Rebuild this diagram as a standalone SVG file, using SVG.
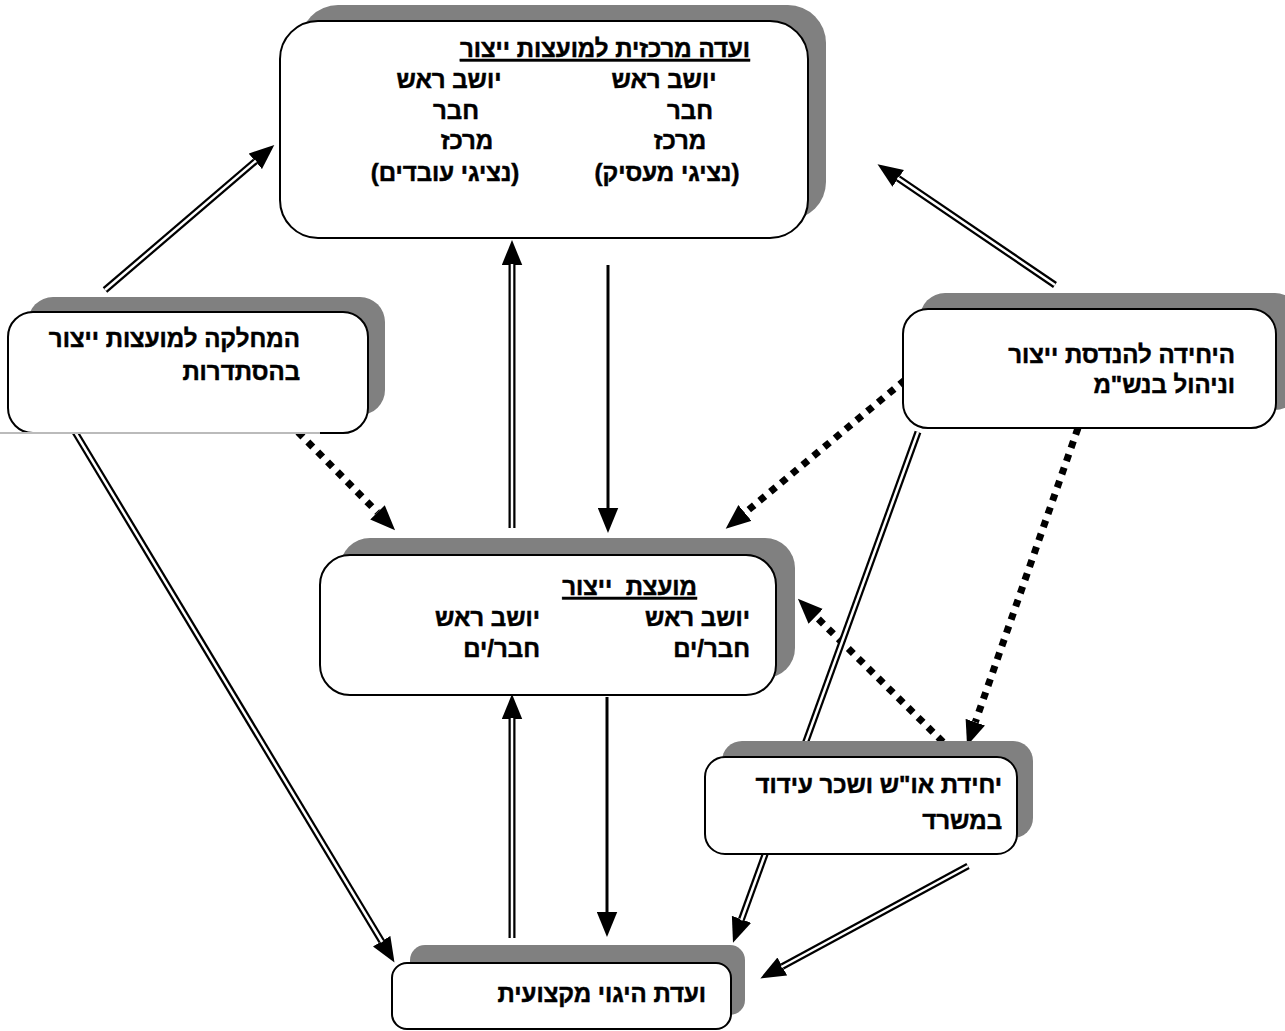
<svg xmlns="http://www.w3.org/2000/svg" width="1285" height="1031" viewBox="0 0 1285 1031">
<style>
.shadow{fill:#808080;}
.box{fill:#fff;stroke:#000;stroke-width:2;}
.t{font-family:"Liberation Sans","DejaVu Sans",Arial,sans-serif;font-weight:bold;font-size:24px;fill:#000;stroke:#000;stroke-width:0.5;}
.r{text-anchor:start;direction:rtl;}
.m{text-anchor:middle;}
.u{text-decoration:underline;}
.pre{white-space:pre;}
.dbl{stroke:#000;stroke-width:7;fill:none;}
.dblw{stroke:#fff;stroke-width:2.5;fill:none;}
.sol{stroke:#000;stroke-width:3;fill:none;}
.dot{stroke:#000;stroke-width:7;stroke-dasharray:7 7;fill:none;}
</style>
<defs>
<marker id="ah" markerUnits="userSpaceOnUse" markerWidth="25" markerHeight="21" viewBox="0 0 22 18" refX="0" refY="9" orient="auto">
<path d="M0,0 L22,9 L0,18 z" fill="#000"/>
</marker>
</defs>
<rect width="1285" height="1031" fill="#fff"/>
<g id="connectors">
<line class="dbl" x1="105" y1="290" x2="255.3" y2="161.3" marker-end="url(#ah)"/>
<line class="dblw" x1="105" y1="290" x2="256" y2="160.7"/>
<line class="dbl" x1="1055" y1="285" x2="898.2" y2="178.4" marker-end="url(#ah)"/>
<line class="dblw" x1="1055" y1="285" x2="897.5" y2="177.9"/>
<line class="dbl" x1="512" y1="528" x2="512" y2="265" marker-end="url(#ah)"/>
<line class="dblw" x1="512" y1="528" x2="512" y2="264"/>
<line class="sol" x1="608" y1="265" x2="608" y2="508" marker-end="url(#ah)"/>
<line class="dot" x1="298" y1="432" x2="377.5" y2="512.4" marker-end="url(#ah)"/>
<line class="dot" x1="905" y1="380" x2="744.9" y2="512.9" marker-end="url(#ah)"/>
<line class="dot" x1="1078" y1="428" x2="975.3" y2="722.2" marker-end="url(#ah)"/>
<line class="dot" x1="943" y1="742" x2="815.7" y2="616.4" marker-end="url(#ah)"/>
<line class="dbl" x1="75" y1="432" x2="381.6" y2="941.2" marker-end="url(#ah)"/>
<line class="dblw" x1="75" y1="432" x2="382.1" y2="942"/>
<line class="dbl" x1="512" y1="938" x2="512" y2="719" marker-end="url(#ah)"/>
<line class="dblw" x1="512" y1="938" x2="512" y2="718"/>
<line class="sol" x1="607" y1="697" x2="607" y2="912" marker-end="url(#ah)"/>
<line class="dbl" x1="918" y1="432" x2="741.5" y2="919.3" marker-end="url(#ah)"/>
<line class="dblw" x1="918" y1="432" x2="741.2" y2="920.2"/>
<line class="dbl" x1="968" y1="866" x2="782.3" y2="966.5" marker-end="url(#ah)"/>
<line class="dblw" x1="968" y1="866" x2="781.4" y2="967"/>
</g>
<g id="node-central">
<rect class="shadow" x="300" y="5" width="526" height="215" rx="38"/>
<rect class="box" x="280" y="21" width="528" height="217" rx="38"/>
<text class="t r u" x="750" y="57">ועדה מרכזית למועצות ייצור</text>
<text class="t m" x="664" y="88">יושב ראש</text>
<text class="t m" x="690" y="119">חבר</text>
<text class="t m" x="680" y="149">מרכז</text>
<text class="t m" x="667" y="181">(נציגי מעסיק)</text>
<text class="t m" x="449" y="88">יושב ראש</text>
<text class="t m" x="456" y="119">חבר</text>
<text class="t m" x="467" y="149">מרכז</text>
<text class="t m" x="445" y="181">(נציגי עובדים)</text>
</g>
<g id="node-histadrut">
<rect class="shadow" x="28" y="297" width="357" height="118" rx="25"/>
<rect class="box" x="8" y="312" width="360" height="121" rx="25"/>
<line x1="0" y1="433" x2="320" y2="433" stroke="#bbb" stroke-width="2"/>
<text class="t r" x="300" y="347">המחלקה למועצות ייצור</text>
<text class="t r" x="300" y="380">בהסתדרות</text>
</g>
<g id="node-engineering">
<rect class="shadow" x="920" y="293" width="380" height="117" rx="25"/>
<rect class="box" x="903" y="309" width="373" height="119" rx="25"/>
<text class="t r" x="1235" y="363">היחידה להנדסת ייצור</text>
<text class="t r" x="1235" y="393">וניהול בנש"מ</text>
</g>
<g id="node-council">
<rect class="shadow" x="340" y="538" width="455" height="140" rx="30"/>
<rect class="box" x="320" y="555" width="456" height="140" rx="30"/>
<text class="t r u pre" x="697" y="595" xml:space="preserve">מועצת  ייצור</text>
<text class="t r" x="750" y="626">יושב ראש</text>
<text class="t r" x="750" y="657">חבר/ים</text>
<text class="t r" x="540" y="626">יושב ראש</text>
<text class="t r" x="540" y="657">חבר/ים</text>
</g>
<g id="node-wages">
<rect class="shadow" x="722" y="741" width="311" height="97" rx="20"/>
<rect class="box" x="705" y="757" width="312" height="97" rx="20"/>
<text class="t r" x="1002" y="793">יחידת או"ש ושכר עידוד</text>
<text class="t r" x="1002" y="829">במשרד</text>
</g>
<g id="node-steering">
<rect class="shadow" x="410" y="945" width="335" height="70" rx="15"/>
<rect class="box" x="392" y="963" width="339" height="66" rx="15"/>
<text class="t r" x="706" y="1002">ועדת היגוי מקצועית</text>
</g>
</svg>
